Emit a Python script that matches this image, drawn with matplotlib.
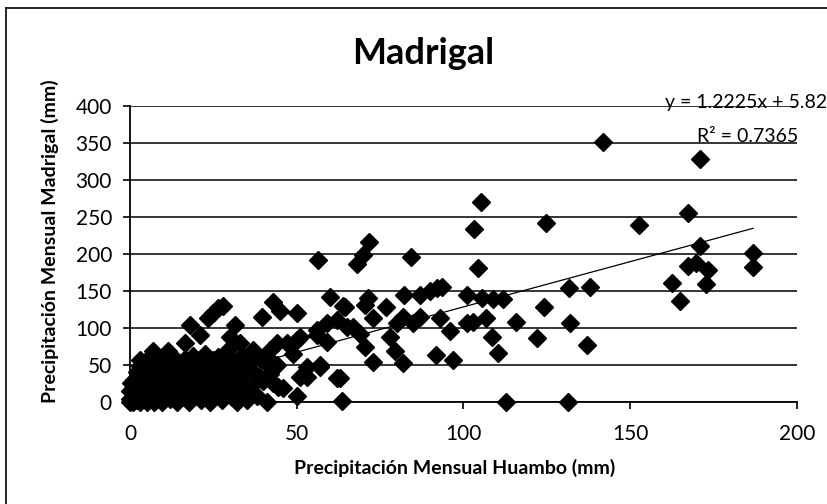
import numpy as np
import matplotlib
matplotlib.use("Agg")
import matplotlib.pyplot as plt
from matplotlib.lines import Line2D

plt.rcParams['font.family'] = ['Lato', 'DejaVu Sans']

# Monthly precipitation (mm): Huambo (x) vs Madrigal (y)
huambo = [
    # dense cluster near the origin
    0, 0, 0, 0.3, 0.5, 0.8, 1, 1, 1.2, 1.5, 1.8, 2, 2, 2.5, 2.8, 3, 3, 3.3, 3.6, 4,
    4, 4.5, 5, 5, 5.3, 5.8, 6, 6.3, 6.5, 7, 7.2, 7.5, 8, 8, 8.5, 9, 9, 9.5, 10, 10.3,
    10.8, 11, 11.5, 12, 12, 12.5, 13, 13.3, 13.8, 14, 14.5, 15, 15.3, 15.8, 16, 16.5, 17, 17.3, 17.8, 18,
    18.5, 19, 19.3, 19.8, 20, 20.5, 21, 21.3, 21.8, 22, 22.5, 23, 23.5, 24, 24.3, 24.8, 25, 25.5, 26, 26.5,
    27, 27.5, 28, 28.5, 29, 29.5, 30, 30.5, 31, 31.5, 32, 32.5, 33, 33.5, 34, 35, 36, 37, 38, 39,
    40, 41, 42, 44, 46,
    # upper edge of the cluster
    2.9, 6.9, 11.4, 16.4, 17.9, 20.9, 23.4, 25, 26.4, 28,
    # 30 - 65 mm
    47, 51, 49, 53, 51, 41, 44, 37, 33, 30, 34, 39, 42, 43,
    43, 60, 63.8, 39.5, 50, 45, 31.5, 56, 59, 42, 50, 53, 57, 62, 44.5, 50, 35,
    # 55 - 105 mm
    71.8, 70, 68, 84.3, 56.5, 64.5, 71.5, 70.5, 76.8, 82.3, 87, 90, 93.5, 92, 101,
    73, 82, 87, 85, 80, 93, 101, 96, 78, 69, 70.5, 65, 79.5, 82, 73, 91.8, 97,
    63, 63.5, 67, 59, 62, 56, 57,
    # 100 - 145 mm
    141.9, 105.2, 103.2, 124.8, 104.3, 105.5, 108.9, 111.9, 131.7, 138, 124.2, 102.9,
    106.7, 115.7, 132, 108.5, 110.5, 122, 137.2, 112.8, 131.3,
    # 150 - 190 mm
    171, 167.3, 152.7, 171, 167.4, 169.8, 173.4, 172.8, 162.6, 165, 186.8, 186.9,
]
madrigal = [
    0, 3, 14, 25, 5, 12, 0, 18, 30, 8, 22, 2, 40, 14, 28, 0, 48, 10, 35, 20,
    6, 52, 0, 30, 15, 42, 60, 24, 5, 36, 0, 18, 48, 28, 10, 58, 38, 0, 22, 46,
    14, 32, 55, 4, 40, 24, 60, 12, 34, 0, 50, 20, 42, 6, 30, 58, 14, 44, 0, 24,
    36, 62, 8, 48, 18, 30, 54, 2, 40, 12, 64, 26, 46, 0, 34, 56, 16, 8, 42, 60,
    24, 2, 50, 32, 14, 70, 40, 6, 56, 22, 0, 46, 30, 62, 12, 52, 20, 40, 8, 58,
    28, 0, 38, 50, 18,
    56, 68, 68, 79, 104, 90, 113, 120, 126, 130,
    79, 88, 65, 47, 34, 61, 79, 70, 79, 88, 38, 34, 47, 25,
    135, 142, 129, 115, 120, 122, 104, 97, 106, 70, 83, 34, 47, 32, 20, 8, 2,
    216, 198, 186, 196, 191, 128, 140, 131, 128, 144, 144, 149, 155, 154, 144,
    113, 115, 115, 106, 106, 113, 107, 95, 88, 92, 74, 101, 68, 52, 54, 63, 57,
    32, 1, 101, 81, 110, 90, 50,
    351, 270, 233, 242, 181, 140, 139, 139, 153, 155, 128, 108,
    113, 108, 106, 88, 66, 86, 77, 0, 0,
    328, 255, 239, 210, 184, 187, 178, 159, 160, 136, 201, 182,
]

# Excel linear trendline
slope = 1.2225
intercept = 5.82
r2 = 0.7365

x_ticks = [0, 50, 100, 150, 200]
y_ticks = [0, 50, 100, 150, 200, 250, 300, 350, 400]

W, H = 828, 504
fig = plt.figure(figsize=(W / 100, H / 100), dpi=100)
ax = fig.add_axes([130 / W, 1 - 401.7 / H, (796.7 - 130) / W, (401.7 - 105.7) / H])

ax.set_xlim(0, 200)
ax.set_ylim(0, 400)
ax.set_xticks(x_ticks)
ax.set_yticks(y_ticks)
ax.tick_params(axis='x', direction='out', length=5, width=1.2, pad=11, labelsize=15)
ax.tick_params(axis='y', direction='out', length=5, width=1.2, pad=8, labelsize=15)
ax.yaxis.grid(True, color='black', linewidth=1.1)
ax.set_axisbelow(True)
for side in ['top', 'right']:
    ax.spines[side].set_visible(False)
for side in ['left', 'bottom']:
    ax.spines[side].set_linewidth(1.3)

ax.plot(huambo, madrigal, linestyle='none', marker='D', markersize=9.5,
        color='black', clip_on=False, zorder=3)

xt = np.array([0, max(huambo)])
ax.plot(xt, slope * xt + intercept, color='black', linewidth=0.9, zorder=4)

fig.text(423 / W, 1 - 53 / H, 'Madrigal', ha='center', va='center',
         fontsize=26, fontweight='bold')
fig.text(50 / W, 1 - 241 / H, 'Precipitación Mensual Madrigal (mm)', ha='center',
         va='center', rotation=90, fontsize=14, fontweight='bold')
fig.text(455 / W, 1 - 468 / H, 'Precipitación Mensual Huambo (mm)', ha='center',
         va='center', fontsize=14, fontweight='bold')
fig.text(665 / W, 1 - 103 / H, f'y = {slope}x + {intercept:.2f}', ha='left',
         va='center', fontsize=14)
fig.text(697 / W, 1 - 137 / H, f'R² = {r2}', ha='left', va='center', fontsize=14)

# chart frame (scan border)
fig.add_artist(Line2D([6 / W, 6 / W], [0, 1 - 8 / H], color='black', linewidth=1.2))
fig.add_artist(Line2D([6 / W, 1], [1 - 8 / H, 1 - 8 / H], color='black', linewidth=1.2))

fig.savefig('out.png', dpi=100)
